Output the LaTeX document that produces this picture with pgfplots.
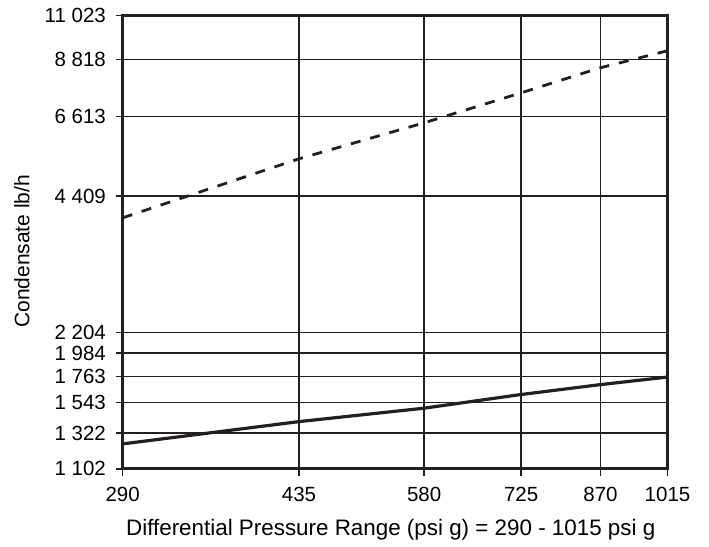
\documentclass[border=0pt]{standalone}
\usepackage{fontspec}
\setmainfont{Liberation Sans}
\usepackage{pgfplots}
\pgfplotsset{compat=1.18}
\definecolor{ink}{RGB}{35,31,32}

\begin{document}
\begin{tikzpicture}[font=\fontsize{10.25}{12.3}\selectfont]
% page frame (reference proportions)
\path[use as bounding box] (-61.35pt,-39pt) rectangle (293.25pt,234.5pt);
\begin{axis}[
  at={(0,0)}, anchor=south west,
  scale only axis, width=272.5pt, height=226.65pt,
  xmode=log, ymode=log,
  xmin=290, xmax=1015, ymin=1102, ymax=11023,
  xtick={290,435,580,725,870,1015},
  xticklabels={290,435,580,725,870,1015},
  ytick={1102,1322,1543,1763,1984,2204,4409,6613,8818,11023},
  yticklabels={1 102,1 322,1 543,1 763,1 984,2 204,4 409,6 613,8 818,11 023},
  minor xtick={}, minor ytick={},
  /pgf/number format/assume math mode=true,
  grid=major,
  major grid style={ink, line width=0.7pt},
  axis line style={ink, line width=1.5pt},
  tick style={ink, line width=0.7pt},
  tick align=outside, major tick length=3.5pt,
  xtick pos=bottom, ytick pos=left,
  xticklabel style={yshift=-2.4pt},
  yticklabel style={xshift=-1.4pt},
  xlabel={Differential Pressure Range (psi g) = 290 - 1015 psi g},
  ylabel={Condensate lb/h},
  xlabel style={at={(axis description cs:0.492,-0.134)}, anchor=center,
    font=\fontsize{11.2}{13.4}\selectfont},
  ylabel style={at={(axis description cs:-0.185,0.48)}, anchor=center,
    font=\fontsize{10.5}{12.6}\selectfont},
  clip=true,
]
% upper curve (dashed)
\addplot[ink, line width=1.4pt, dash pattern=on 5pt off 5pt] coordinates {
  (290,3947) (435,5327) (580,6396) (725,7448) (870,8462) (1015,9223)
};
% lower curve (solid)
\addplot[ink, line width=1.6pt] coordinates {
  (290,1251) (435,1401) (580,1500) (725,1608) (870,1691) (1015,1757)
};
\end{axis}
\end{tikzpicture}
\end{document}
